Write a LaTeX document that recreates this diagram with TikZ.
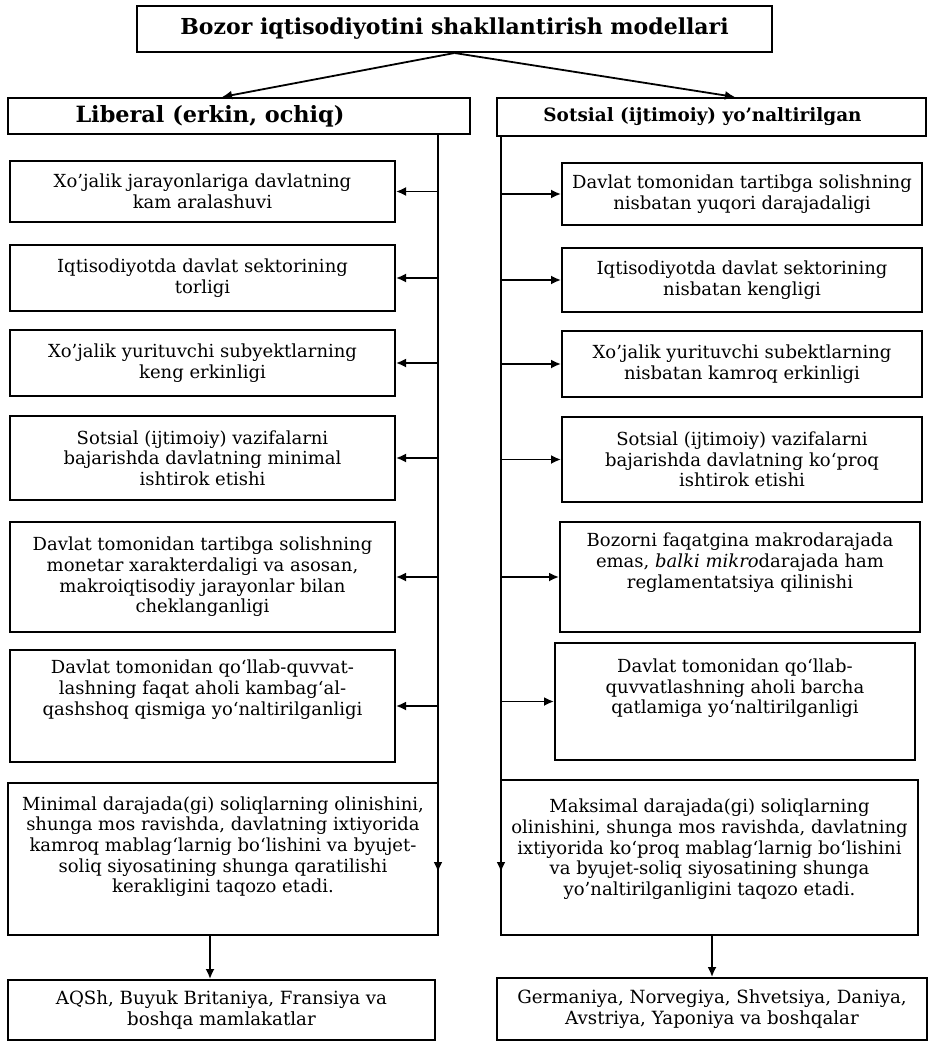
\documentclass[tikz,border=0pt]{standalone}
\usepackage{fontspec}
\setmainfont{DejaVu Serif}
\usetikzlibrary{arrows.meta}

\begin{document}
\begin{tikzpicture}[x=0.5pt,y=-0.5pt]
	\tikzset{
		% bloklar
		blok/.style={draw,line width=1pt,align=center,inner sep=0pt,font=\fontsize{9}{10.3}\selectfont},
		% sarlavha bloklari
		sarlavha/.style={blok,font=\fontsize{11}{13}\selectfont\bfseries},
		% mamlakatlar
		mamlakat/.style={blok,font=\fontsize{9.1}{10.6}\selectfont},
		% strelkalar
		strelka/.style={line width=0.9pt,-{Latex[length=5pt,width=4.5pt]}},
	}
	\useasboundingbox (0,0) rectangle (931,1043);
	%
	\node[sarlavha,minimum width=317.5pt,minimum height=23pt] (bozor) at (454.5,29) {Bozor iqtisodiyotini shakllantirish modellari};
	\node[sarlavha,font=\fontsize{11.2}{13}\selectfont\bfseries,minimum width=231pt,minimum height=18pt] (liberal) at (239,116) {Liberal (erkin, ochiq)\hspace*{29pt}};
	\node[sarlavha,font=\fontsize{9.2}{11}\selectfont\bfseries,minimum width=214.5pt,minimum height=19pt] (sotsial) at (711.5,117) {Sotsial (ijtimoiy) yo'naltirilgan\hspace*{9pt}};
	%
	\draw[strelka] (bozor.south) -- ([xshift=-8.5pt]liberal.north);
	\draw[strelka] (bozor.south) -- ([xshift=11.75pt]sotsial.north);
	%
	\coordinate (lv) at (438,872);
	\coordinate (rv) at (501,872);
	% chap ustun
	\node[blok,minimum width=192.5pt,minimum height=30.5pt] (l1) at (202.5,191.5) {Xo'jalik jarayonlariga davlatning\\kam aralashuvi};
	\node[blok,minimum width=192.5pt,minimum height=33pt] (l2) at (202.5,278) {Iqtisodiyotda davlat sektorining\\torligi};
	\node[blok,minimum width=192.5pt,minimum height=33pt] (l3) at (202.5,363) {Xo'jalik yurituvchi subyektlarning\\keng erkinligi};
	\node[blok,minimum width=192.5pt,minimum height=42pt] (l4) at (202.5,458) {Sotsial (ijtimoiy) vazifalarni\\bajarishda davlatning minimal\\ishtirok etishi};
	\node[blok,minimum width=192.5pt,minimum height=55pt] (l5) at (202.5,577) {Davlat tomonidan tartibga solishning\\monetar xarakterdaligi va asosan,\\makroiqtisodiy jarayonlar bilan\\cheklanganligi};
	\node[blok,minimum width=192.5pt,minimum height=56pt] (l6) at (202.5,706) {Davlat tomonidan qo`llab-quvvat-\\lashning faqat aholi kambag`al-\\qashshoq qismiga yo`naltirilganligi\\[8pt]\mbox{}};
	\node[blok,minimum width=215pt,minimum height=76pt] (l7) at (223,859) {Minimal darajada(gi) soliqlarning olinishini,\\shunga mos ravishda, davlatning ixtiyorida\\kamroq mablag`larnig bo`lishini va byujet-\\soliq siyosatining shunga qaratilishi\\kerakligini taqozo etadi.\\[4pt]\mbox{}};
	\node[mamlakat,minimum width=213.5pt,minimum height=30pt] (lc) at (221.5,1010) {AQSh, Buyuk Britaniya, Fransiya va\\boshqa mamlakatlar};
	% o'ng ustun
	\node[blok,minimum width=180pt,minimum height=31pt] (r1) at (742,194) {Davlat tomonidan tartibga solishning\\nisbatan yuqori darajadaligi};
	\node[blok,minimum width=180pt,minimum height=32pt] (r2) at (742,280) {Iqtisodiyotda davlat sektorining\\nisbatan kengligi};
	\node[blok,minimum width=180pt,minimum height=33pt] (r3) at (742,364) {Xo'jalik yurituvchi subektlarning\\nisbatan kamroq erkinligi};
	\node[blok,minimum width=180pt,minimum height=42.5pt] (r4) at (742,459.5) {Sotsial (ijtimoiy) vazifalarni\\bajarishda davlatning ko`proq\\ishtirok etishi};
	\node[blok,minimum width=180pt,minimum height=55pt] (r5) at (740,577) {Bozorni faqatgina makrodarajada\\emas, \textit{balki mikro}darajada ham\\reglamentatsiya qilinishi\\[6pt]\mbox{}};
	\node[blok,minimum width=180pt,minimum height=58.5pt] (r6) at (735,701.5) {Davlat tomonidan qo`llab-\\quvvatlashning aholi barcha\\qatlamiga yo`naltirilganligi\\[5pt]\mbox{}};
	\node[blok,minimum width=208.5pt,minimum height=77.5pt] (r7) at (709.5,857.5) {Maksimal darajada(gi) soliqlarning\\olinishini, shunga mos ravishda, davlatning\\ixtiyorida ko`proq mablag`larnig bo`lishini\\va byujet-soliq siyosatining shunga\\yo'naltirilganligini taqozo etadi.\\[0pt]\mbox{}};
	\node[mamlakat,minimum width=215pt,minimum height=31pt] (rc) at (712,1009) {Germaniya, Norvegiya, Shvetsiya, Daniya,\\Avstriya, Yaponiya va boshqalar};
	% vertikal chiziqlar
	\draw[strelka,line width=1pt] (liberal.south -| lv) -- (lv);
	\draw[strelka,line width=1pt] (sotsial.south -| rv) -- (rv);
	%
	\draw[strelka] (l1.east -| lv) -- (l1.east);
	\draw[strelka] (l2.east -| lv) -- (l2.east);
	\draw[strelka] (l3.east -| lv) -- (l3.east);
	\draw[strelka] (l4.east -| lv) -- (l4.east);
	\draw[strelka] (l5.east -| lv) -- (l5.east);
	\draw[strelka] (l6.east -| lv) -- (l6.east);
	%
	\draw[strelka] (r1.west -| rv) -- (r1.west);
	\draw[strelka] (r2.west -| rv) -- (r2.west);
	\draw[strelka] (r3.west -| rv) -- (r3.west);
	\draw[strelka] (r4.west -| rv) -- (r4.west);
	\draw[strelka] (r5.west -| rv) -- (r5.west);
	\draw[strelka] (r6.west -| rv) -- (r6.west);
	% pastki strelkalar
	\draw[strelka] ([xshift=-5.75pt]lc.north |- l7.south) -- ([xshift=-5.75pt]lc.north);
	\draw[strelka] (rc.north |- r7.south) -- (rc.north);
\end{tikzpicture}
\end{document}
